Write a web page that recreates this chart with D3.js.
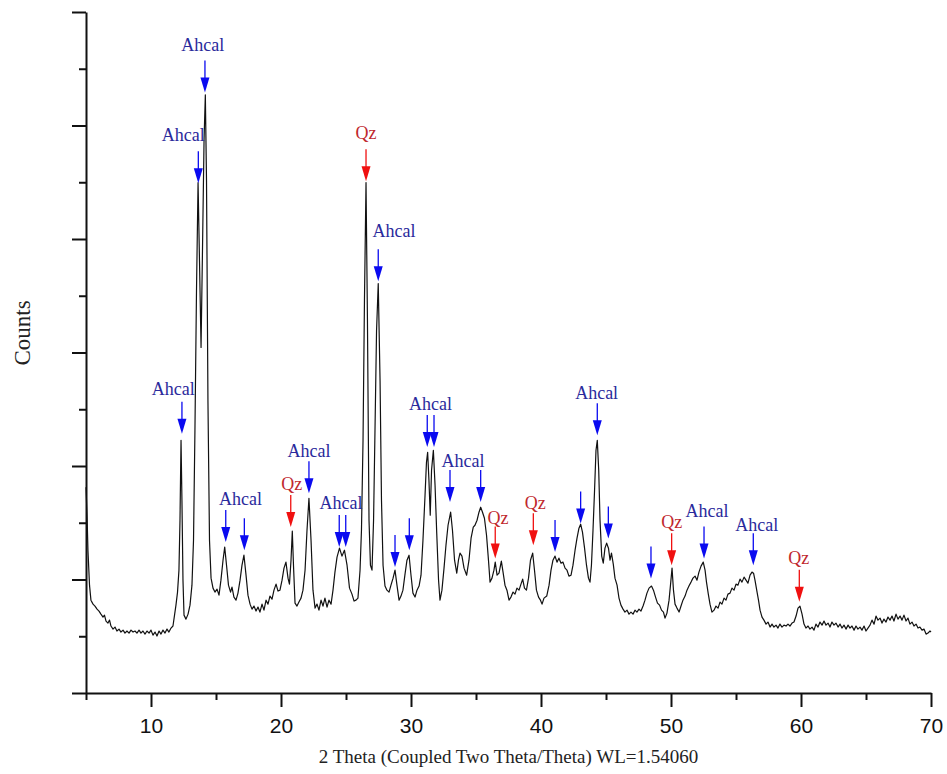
<!DOCTYPE html>
<html>
<head>
<meta charset="utf-8">
<script src="https://cdn.jsdelivr.net/npm/d3@7"></script>
<style>
  body { margin: 0; background: #fff; }
  svg text { font-family: "Liberation Serif", "Times New Roman", serif; }
</style>
</head>
<body>
<div id="chart"></div>
<script>
// XRD scan: [2 theta (deg), counts]
const scan = [
  [5.00,1813],[5.08,1566],[5.15,1258],[5.27,950],[5.38,818],[5.54,783],[5.69,766],[5.85,739],[6.00,722],[6.15,695],
  [6.31,669],[6.42,686],[6.54,634],[6.69,616],[6.81,643],[6.92,590],[7.08,563],[7.23,581],[7.38,546],[7.54,563],
  [7.69,537],[7.85,554],[8.00,528],[8.15,546],[8.31,528],[8.46,554],[8.62,537],[8.77,546],[8.92,528],[9.08,554],
  [9.23,528],[9.38,546],[9.54,519],[9.69,546],[9.85,528],[10.00,554],[10.15,510],[10.31,537],[10.46,502],[10.62,546],
  [10.77,519],[10.92,554],[11.08,528],[11.23,563],[11.38,537],[11.54,572],[11.69,590],[11.81,686],[11.92,774],[12.04,889],
  [12.15,1082],[12.23,1522],[12.31,2226],[12.38,1698],[12.46,994],[12.54,686],[12.69,651],[12.85,695],[13.00,774],[13.15,950],
  [13.27,1346],[13.38,2314],[13.50,3546],[13.62,4497],[13.73,3810],[13.85,3045],[13.96,3898],[14.08,4866],[14.18,5271],[14.27,4514],
  [14.38,2578],[14.50,1346],[14.62,1012],[14.77,924],[14.92,889],[15.08,915],[15.23,862],[15.38,994],[15.54,1170],[15.67,1285],
  [15.81,1126],[15.96,950],[16.12,889],[16.23,933],[16.38,845],[16.54,818],[16.69,880],[16.85,994],[17.00,1126],[17.15,1214],
  [17.31,1038],[17.46,862],[17.62,783],[17.77,739],[17.92,766],[18.08,722],[18.23,757],[18.38,713],[18.54,783],[18.69,730],
  [18.85,818],[19.00,783],[19.15,854],[19.31,827],[19.46,906],[19.62,959],[19.77,898],[19.92,906],[20.08,994],[20.23,1100],
  [20.38,1153],[20.54,1012],[20.65,959],[20.77,1170],[20.87,1426],[20.96,1126],[21.08,792],[21.23,766],[21.38,801],[21.54,836],
  [21.69,906],[21.85,1082],[22.00,1434],[22.15,1716],[22.31,1346],[22.46,906],[22.62,748],[22.77,783],[22.92,730],[23.08,818],
  [23.23,766],[23.38,836],[23.54,757],[23.69,818],[23.85,783],[24.00,906],[24.15,1065],[24.31,1197],[24.50,1276],[24.69,1206],
  [24.88,1258],[25.08,1126],[25.27,924],[25.46,871],[25.62,810],[25.77,818],[25.92,836],[26.08,1082],[26.19,1434],[26.31,2226],
  [26.42,3458],[26.54,4497],[26.65,3282],[26.77,1522],[26.88,1126],[27.00,1082],[27.12,1522],[27.23,2314],[27.35,3194],[27.48,3608],
  [27.62,2754],[27.73,1698],[27.85,1126],[28.00,942],[28.15,906],[28.31,889],[28.46,950],[28.62,1012],[28.77,1082],[28.92,950],
  [29.08,818],[29.23,854],[29.38,906],[29.54,1047],[29.69,1170],[29.85,1214],[30.00,1038],[30.15,880],[30.31,845],[30.46,906],
  [30.62,942],[30.77,1038],[30.92,1346],[31.08,1742],[31.19,2033],[31.28,2121],[31.38,1874],[31.48,1566],[31.58,1962],[31.72,2138],
  [31.85,1830],[31.98,1408],[32.12,994],[32.23,818],[32.38,906],[32.54,1100],[32.69,1302],[32.85,1478],[33.05,1593],[33.19,1434],
  [33.35,1170],[33.52,1056],[33.65,1170],[33.77,1232],[33.92,1206],[34.08,1100],[34.28,1038],[34.46,1170],[34.62,1364],[34.79,1461],
  [34.92,1478],[35.08,1522],[35.23,1593],[35.36,1637],[35.50,1593],[35.65,1540],[35.81,1390],[35.96,1170],[36.08,977],[36.23,1012],
  [36.38,1082],[36.48,1153],[36.62,1038],[36.77,1056],[36.95,1162],[37.08,1065],[37.23,950],[37.38,906],[37.54,818],[37.69,845],
  [37.85,889],[38.00,871],[38.15,924],[38.31,906],[38.46,959],[38.59,1003],[38.73,924],[38.88,906],[39.04,1012],[39.19,1170],
  [39.36,1232],[39.50,1082],[39.65,906],[39.81,845],[39.96,818],[40.08,783],[40.23,836],[40.44,854],[40.62,950],[40.77,1082],
  [40.92,1170],[41.08,1206],[41.23,1153],[41.38,1188],[41.54,1144],[41.69,1153],[41.85,1100],[42.00,1082],[42.15,1030],[42.31,1038],
  [42.46,1126],[42.62,1258],[42.77,1364],[42.92,1452],[43.05,1487],[43.19,1417],[43.35,1276],[43.50,1126],[43.65,1012],[43.77,977],
  [43.88,1126],[44.00,1434],[44.12,1786],[44.23,2138],[44.33,2226],[44.44,1962],[44.54,1522],[44.67,1206],[44.79,1144],[44.92,1276],
  [45.05,1320],[45.19,1276],[45.31,1170],[45.42,1232],[45.56,1135],[45.69,1012],[45.85,950],[46.00,836],[46.15,774],[46.31,739],
  [46.46,713],[46.62,730],[46.77,695],[46.92,713],[47.08,695],[47.23,730],[47.38,713],[47.54,739],[47.69,722],[47.85,766],
  [48.00,818],[48.15,880],[48.31,924],[48.50,942],[48.65,906],[48.81,845],[48.96,792],[49.12,774],[49.27,730],[49.42,713],
  [49.54,660],[49.69,704],[49.85,818],[49.96,950],[50.08,1100],[50.19,906],[50.31,783],[50.46,748],[50.62,713],[50.77,766],
  [50.92,818],[51.08,854],[51.23,906],[51.38,942],[51.54,977],[51.69,1012],[51.85,1030],[52.00,994],[52.15,1065],[52.31,1118],
  [52.48,1153],[52.62,1082],[52.73,977],[52.87,871],[53.00,783],[53.15,713],[53.31,730],[53.46,766],[53.62,748],[53.77,801],
  [53.92,783],[54.08,836],[54.23,818],[54.38,871],[54.54,880],[54.69,924],[54.85,906],[55.00,959],[55.15,950],[55.31,1003],
  [55.46,977],[55.62,1021],[55.77,994],[55.92,968],[56.08,1038],[56.23,1065],[56.35,1056],[56.46,994],[56.62,889],[56.73,818],
  [56.85,730],[57.00,669],[57.15,642],[57.31,607],[57.46,625],[57.62,581],[57.77,607],[57.92,581],[58.08,598],[58.23,572],
  [58.38,607],[58.54,581],[58.69,598],[58.85,590],[59.00,607],[59.15,590],[59.31,616],[59.46,625],[59.62,678],[59.77,748],
  [59.92,766],[60.08,695],[60.23,607],[60.38,572],[60.54,590],[60.69,563],[60.85,581],[61.00,554],[61.15,607],[61.31,581],
  [61.46,625],[61.62,598],[61.77,634],[61.92,598],[62.08,616],[62.23,581],[62.38,625],[62.54,598],[62.69,616],[62.85,581],
  [63.00,607],[63.15,572],[63.31,598],[63.46,563],[63.62,598],[63.77,572],[63.92,590],[64.08,554],[64.23,590],[64.38,563],
  [64.54,581],[64.69,554],[64.85,590],[65.00,546],[65.15,572],[65.31,598],[65.46,642],[65.62,607],[65.77,678],[65.92,642],
  [66.08,660],[66.23,616],[66.38,651],[66.54,625],[66.69,669],[66.85,642],[67.00,678],[67.15,634],[67.31,695],[67.46,651],
  [67.62,678],[67.77,642],[67.92,686],[68.08,634],[68.23,660],[68.38,607],[68.54,625],[68.69,590],[68.85,607],[69.00,572],
  [69.15,581],[69.31,554],[69.46,563],[69.62,519],[69.77,528],[69.92,546],[70.00,537]
];

// peak markers: position, counts at the arrow tip, phase
const markTheta = [12.38, 13.64, 14.15, 15.75, 17.18, 20.75, 22.15, 24.48, 24.98, 26.54,
                   27.48, 28.77, 29.87, 31.25, 31.77, 33.00, 35.36, 36.48, 39.41, 41.08,
                   43.05, 44.33, 45.18, 48.46, 50.05, 52.54, 56.33, 59.87];
const markTip   = [2285, 4491, 5291, 1331, 1258, 1463, 1760, 1287, 1287, 4508,
                   3628, 1111, 1258, 2167, 2167, 1683, 1683, 1185, 1302, 1243,
                   1493, 2270, 1361, 1009, 1126, 1185, 1126, 803];
const markPhase = ["Ahcal", "Ahcal", "Ahcal", "Ahcal", "Ahcal", "Qz", "Ahcal", "Ahcal", "Ahcal", "Qz",
                   "Ahcal", "Ahcal", "Ahcal", "Ahcal", "Ahcal", "Ahcal", "Ahcal", "Qz", "Qz", "Ahcal",
                   "Ahcal", "Ahcal", "Ahcal", "Ahcal", "Qz", "Ahcal", "Ahcal", "Qz"];

// text labels above the markers
const labelText   = ["Ahcal", "Ahcal", "Ahcal", "Ahcal", "Qz", "Ahcal", "Ahcal", "Qz", "Ahcal", "Ahcal",
                     "Ahcal", "Qz", "Qz", "Ahcal", "Qz", "Ahcal", "Ahcal", "Qz"];
const labelTheta  = [11.72, 12.48, 13.98, 16.88, 20.82, 22.15, 24.62, 26.54, 28.69, 31.50,
                     34.00, 36.69, 39.56, 44.28, 50.05, 52.77, 56.59, 59.82];
const labelCounts = [2622, 4866, 5658, 1654, 1786, 2079, 1625, 4884, 4022, 2490,
                     1991, 1493, 1619, 2593, 1455, 1551, 1426, 1133];

const majorX = [10, 20, 30, 40, 50, 60, 70];
const minorX = [5, 15, 25, 35, 45, 55, 65];
const majorY = [0, 1000, 2000, 3000, 4000, 5000, 6000];
const minorY = [500, 1500, 2500, 3500, 4500, 5500];

const width = 947, height = 774;
const plot = {left: 86, right: 931, top: 12, bottom: 693};

const arrowColor = {Ahcal: "#0a0af0", Qz: "#f01010"};
const textColor = {Ahcal: "#2a2a9c", Qz: "#c0282d"};

const svg = d3.select("#chart")
  .append("svg")
    .attr("width", width)
    .attr("height", height);

const x = d3.scaleLinear().domain([5, 70]).range([plot.left, plot.right]);
const y = d3.scaleLinear().domain([0, 6000]).range([plot.bottom, plot.top]);

// axes
function styleAxis(g) {
  g.selectAll("path.domain").attr("stroke", "#111").attr("stroke-width", 2);
  g.selectAll(".tick line").attr("stroke", "#111").attr("stroke-width", 2);
  g.selectAll(".tick text")
    .attr("fill", "#111")
    .style("font-family", "'Liberation Sans', Arial, sans-serif")
    .style("font-size", "21px");
}

svg.append("g")
    .attr("transform", `translate(0,${plot.bottom})`)
    .call(d3.axisBottom(x).tickValues(minorX).tickSize(7).tickSizeOuter(0).tickFormat(""))
    .call(g => g.select(".domain").remove())
    .call(styleAxis);

svg.append("g")
    .attr("transform", `translate(0,${plot.bottom})`)
    .call(d3.axisBottom(x).tickValues(majorX).tickSize(14).tickSizeOuter(0).tickPadding(11)
            .tickFormat(d3.format("d")))
    .call(styleAxis);

svg.append("g")
    .attr("transform", `translate(${plot.left},0)`)
    .call(d3.axisLeft(y).tickValues(minorY).tickSize(7).tickSizeOuter(0).tickFormat(""))
    .call(g => g.select(".domain").remove())
    .call(styleAxis);

svg.append("g")
    .attr("transform", `translate(${plot.left},0)`)
    .call(d3.axisLeft(y).tickValues(majorY).tickSize(14).tickSizeOuter(0).tickFormat(""))
    .call(styleAxis);

// axis titles
svg.append("text")
    .attr("x", (plot.left + plot.right) / 2)
    .attr("y", 763)
    .attr("text-anchor", "middle")
    .attr("fill", "#222")
    .style("font-size", "19px")
    .text("2 Theta (Coupled Two Theta/Theta) WL=1.54060");

svg.append("text")
    .attr("transform", "translate(30,333) rotate(-90)")
    .attr("text-anchor", "middle")
    .attr("fill", "#222")
    .style("font-size", "23px")
    .text("Counts");

// the scan itself
const line = d3.line()
    .x(d => x(d[0]))
    .y(d => y(d[1]));

svg.append("path")
    .datum(scan)
    .attr("fill", "none")
    .attr("stroke", "#111")
    .attr("stroke-width", 1.2)
    .attr("stroke-linejoin", "round")
    .attr("d", line);

// peak arrows: thin shaft + filled head, tip sits on the peak
const arrowLen = 32, headLen = 15, headHalf = 4.5;
const marks = markTheta.map((t, i) => ({theta: t, tip: markTip[i], phase: markPhase[i]}));

const arrows = svg.append("g")
  .selectAll("g")
  .data(marks)
  .enter()
    .append("g")
    .attr("transform", d => `translate(${x(d.theta)},${y(d.tip)})`);

arrows.append("line")
    .attr("x1", 0).attr("x2", 0)
    .attr("y1", -arrowLen).attr("y2", -headLen + 2)
    .attr("stroke", d => arrowColor[d.phase])
    .attr("stroke-width", 1.3);

arrows.append("path")
    .attr("d", `M${-headHalf},${-headLen}L${headHalf},${-headLen}L0,0Z`)
    .attr("fill", d => arrowColor[d.phase]);

// labels
svg.append("g")
  .selectAll("text")
  .data(labelText)
  .enter()
    .append("text")
    .attr("x", (d, i) => x(labelTheta[i]))
    .attr("y", (d, i) => y(labelCounts[i]))
    .attr("text-anchor", "middle")
    .attr("fill", d => textColor[d])
    .style("font-size", "18px")
    .text(d => d);
</script>
</body>
</html>
